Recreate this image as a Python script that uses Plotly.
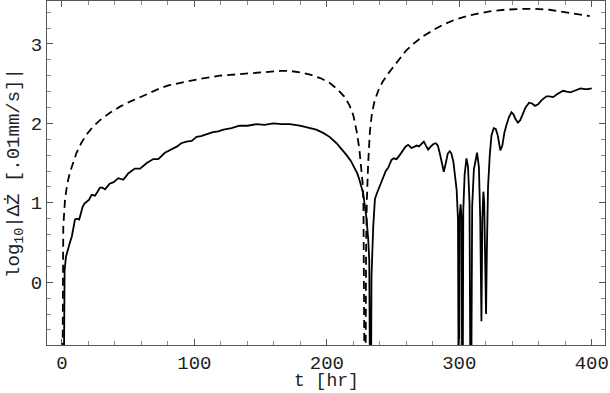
import plotly.graph_objects as go

# dashed curve: time [hr] and log10 amplitude
t_dash = [0, 0.5, 1, 2.3, 4, 6, 8.5, 11, 14.5, 18.6, 23, 28.7, 36, 43.8, 51, 59, 66, 74,
          81, 89, 97, 104, 112, 119, 127, 134, 145, 155, 165, 172, 180, 188, 195, 202,
          208, 213, 217, 220, 222.5, 224.5, 226, 227, 227.6, 228.1, 228.9, 229.6, 230.2,
          231.2, 232.5, 234, 236, 239, 242, 246, 250, 255, 260, 266, 272, 280, 287.5,
          296, 305.7, 314, 323, 334, 345.7, 357, 368, 376, 383, 391, 398.5]
y_dash = [-2.5, 0.25, 0.70, 1.04, 1.24, 1.38, 1.52, 1.63, 1.75, 1.86, 1.95, 2.04, 2.13,
          2.21, 2.27, 2.33, 2.39, 2.44, 2.48, 2.51, 2.54, 2.56, 2.58, 2.60, 2.61, 2.62,
          2.64, 2.65, 2.66, 2.66, 2.64, 2.61, 2.57, 2.51, 2.43, 2.34, 2.23, 2.10, 1.90,
          1.68, 1.45, 1.25, 1.0, 0.4, -2.5, 0.4, 1.04, 1.5, 1.90, 2.12, 2.28, 2.42, 2.52,
          2.62, 2.71, 2.82, 2.92, 3.01, 3.09, 3.17, 3.24, 3.30, 3.35, 3.38, 3.41, 3.43,
          3.44, 3.44, 3.43, 3.41, 3.39, 3.37, 3.35]

# solid curve
t_solid = [0.8, 1.3, 2, 3, 4.5, 6, 7.5, 8.5, 9.8, 11.5, 13, 14.5, 15.6, 17, 18.6, 20.5,
           22.4, 24.9, 26.5, 28.7, 30.5, 32.5, 34.5, 36, 39, 42.5, 46.3, 50, 52.5, 55,
           59, 64, 69, 72.7, 77.7, 81, 84, 87, 90, 94, 98, 101.6, 105, 109, 114, 118,
           122, 128, 134, 140, 147, 153, 159.5, 166, 172, 179.6, 187.2, 192, 197.2, 202,
           207.3, 211, 214.9, 218, 221.1, 223, 224.9, 226.2, 227.4, 228.8, 230, 231.2,
           232, 233, 233.7, 235, 236.3, 238, 240, 242.5, 244.5, 246.3, 248.8, 250.5,
           252.6, 255, 257.6, 259.5, 261.4, 263.9, 265.5, 267.7, 269.5, 271.5, 273.2,
           274.8, 276.5, 278.5, 280.5, 282.3, 283.8, 285.3, 286.8, 288.3, 289.8, 291.3,
           292.8, 294, 295.5, 297, 298, 299, 299.7, 300.3, 301, 301.7, 302.4, 303, 304,
           305.4, 306.6, 307.7, 308.7, 309.7, 311, 313.4, 314.8, 315.8, 316.7, 317.4,
           318.2, 318.8, 319.5, 320.2, 320.8, 321.7, 323, 324.3, 326, 327.5, 329, 331,
           332.5, 334, 335.6, 337.5, 339.4, 341, 342.5, 344.2, 346, 348, 350, 352.7,
           355, 357.2, 359.5, 362, 365.8, 368, 370.8, 374, 378.4, 381, 384, 387, 391.5,
           394.7, 397, 400]
y_solid = [-2.5, -0.6, 0.15, 0.32, 0.42, 0.50, 0.58, 0.66, 0.79, 0.80, 0.79, 0.88, 0.95,
           0.99, 1.01, 1.04, 1.10, 1.09, 1.13, 1.19, 1.19, 1.17, 1.21, 1.24, 1.26, 1.31,
           1.29, 1.37, 1.40, 1.43, 1.43, 1.50, 1.55, 1.55, 1.63, 1.66, 1.68, 1.71, 1.75,
           1.77, 1.78, 1.83, 1.84, 1.86, 1.89, 1.90, 1.92, 1.94, 1.97, 1.97, 1.99, 1.98,
           2.00, 1.99, 1.99, 1.97, 1.94, 1.92, 1.88, 1.83, 1.75, 1.68, 1.60, 1.53, 1.44,
           1.37, 1.27, 1.19, 1.12, 0.95, 0.79, 0.55, 0.28, -2.5, 0.07, 0.70, 1.05, 1.13,
           1.22, 1.33, 1.40, 1.44, 1.54, 1.56, 1.55, 1.60, 1.67, 1.71, 1.73, 1.69, 1.70,
           1.72, 1.71, 1.74, 1.77, 1.72, 1.67, 1.71, 1.74, 1.75, 1.72, 1.62, 1.48, 1.39,
           1.50, 1.62, 1.65, 1.62, 1.52, 1.33, 1.16, 0.79, -2.5, 0.85, 0.98, 0.8, -2.5,
           0.9, 1.35, 1.56, 1.45, 1.0, -2.5, 0.95, 1.42, 1.63, 1.45, 0.8, -0.49, 0.8,
           1.14, 1.0, 0.3, -0.4, 0.4, 1.2, 1.6, 1.85, 1.94, 1.93, 1.85, 1.66, 1.72, 1.88,
           1.98, 2.08, 2.14, 2.11, 2.05, 2.01, 2.04, 2.12, 2.20, 2.26, 2.25, 2.22, 2.24,
           2.29, 2.34, 2.34, 2.33, 2.37, 2.41, 2.40, 2.39, 2.41, 2.44, 2.43, 2.43, 2.44]

x_title = "t [hr]"
y_title = "log<sub>10</sub>|ΔŻ [.01mm/s]|"

font_mono = "Liberation Mono"
text_font = dict(family=font_mono, size=19, color="#222")

fig = go.Figure()
fig.add_trace(go.Scatter(x=t_dash, y=y_dash, mode="lines",
                         line=dict(color="black", width=1.8, dash="8px,5px")))
fig.add_trace(go.Scatter(x=t_solid, y=y_solid, mode="lines",
                         line=dict(color="black", width=1.8)))

axis_common = dict(showline=True, linecolor="#555", linewidth=1, mirror="allticks",
                   ticks="inside", ticklen=6, tickcolor="#555", showgrid=False,
                   zeroline=False, automargin=False, tickfont=text_font)

fig.update_layout(
    width=610, height=393,
    margin=dict(l=47, r=5, t=1, b=48),
    paper_bgcolor="white", plot_bgcolor="white",
    showlegend=False,
    xaxis=dict(range=[-11.3, 410], tick0=0, dtick=100,
               minor=dict(dtick=20, ticks="inside", ticklen=4, tickcolor="#888"),
               **axis_common),
    yaxis=dict(range=[-0.79, 3.54], tick0=0, dtick=1,
               minor=dict(dtick=0.2, ticks="inside", ticklen=4, tickcolor="#888"),
               title=dict(text=y_title, font=text_font, standoff=6),
               **axis_common),
)

# x title as an annotation so it sits just under the tick labels
fig.add_annotation(text=x_title, xref="paper", yref="paper", x=0.5, y=-0.105,
                   yanchor="middle", showarrow=False,
                   font=dict(family=font_mono, size=18, color="#222"))

# drop the browser's default page margin so the figure sits at the window corner
fig.write_html("out.html", config={"displayModeBar": False},
               post_script="document.body.style.margin='0';")
